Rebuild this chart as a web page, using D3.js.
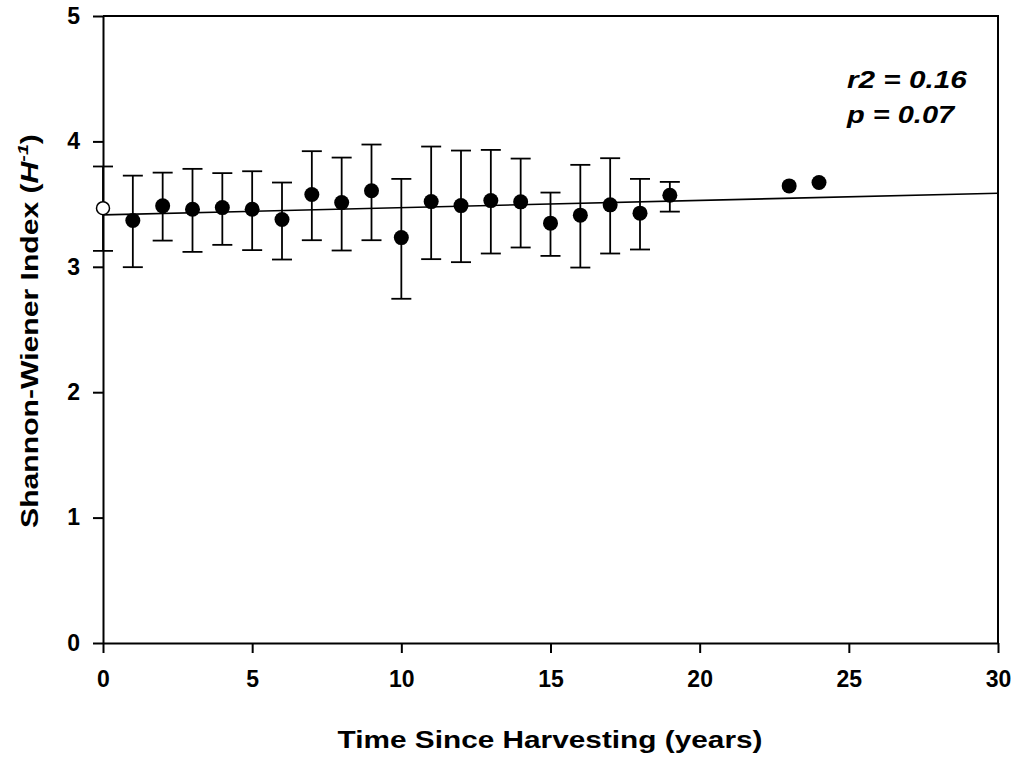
<!DOCTYPE html>
<html>
<head>
<meta charset="utf-8">
<script src="https://cdn.jsdelivr.net/npm/d3@7"></script>
<style>
  html, body { margin: 0; padding: 0; background: #fff; }
  svg { display: block; font-family: Arial, Helvetica, sans-serif; }
</style>
</head>
<body>
<svg id="chart" width="1018" height="757"></svg>
<script>
// Years since harvesting for each sampled stand
const years = [0, 1, 2, 3, 4, 5, 6, 7, 8, 9, 10, 11, 12, 13, 14, 15, 16, 17, 18, 19, 23, 24];
// Mean Shannon-Wiener index per age
const meanH = [3.467, 3.369, 3.486, 3.459, 3.472, 3.459, 3.377, 3.576, 3.512, 3.606, 3.233,
               3.520, 3.488, 3.528, 3.518, 3.348, 3.412, 3.494, 3.428, 3.571, 3.645, 3.672];
// Error bar bounds (null where a single stand was sampled)
const upperH = [3.80, 3.727, 3.751, 3.781, 3.747, 3.762, 3.672, 3.922, 3.871, 3.975, 3.701,
                3.959, 3.927, 3.932, 3.863, 3.592, 3.813, 3.866, 3.701, 3.677, null, null];
const lowerH = [3.127, 2.997, 3.209, 3.119, 3.175, 3.133, 3.058, 3.212, 3.130, 3.212, 2.745,
                3.061, 3.037, 3.106, 3.154, 3.087, 2.994, 3.106, 3.138, 3.440, null, null];
// Unharvested reference stand is drawn hollow
const isReference = years.map(y => y === 0);
// Linear regression endpoints
const fitX = [0, 30];
const fitY = [3.414, 3.587];
const xTicks = [0, 5, 10, 15, 20, 25, 30];
const yTicks = [0, 1, 2, 3, 4, 5];
const statLines = ["r2 = 0.16", "p = 0.07"];

const svg = d3.select("#chart");
const plotL = 103, plotR = 998, plotT = 16, plotB = 643;
const FONT = "Arial, Helvetica, sans-serif";

const x = d3.scaleLinear().domain([0, 30]).range([plotL, plotR]);
const y = d3.scaleLinear().domain([0, 5]).range([plotB, plotT]);

const data = years.map((yr, i) => ({
  x: yr, m: meanH[i], hi: upperH[i], lo: lowerH[i], ref: isReference[i]
}));

// Widen a text node horizontally (in its own frame) to a given width
function widen(node, width) {
  const w = node.getBBox().width;
  return w > 0 ? width / w : 1;
}

// frame (top and right)
svg.append("path")
  .attr("d", `M${plotL},${plotT}H${plotR}V${plotB}`)
  .attr("fill", "none").attr("stroke", "#000").attr("stroke-width", 2);

// axes
const xAxis = svg.append("g")
  .attr("transform", `translate(0,${plotB})`)
  .call(d3.axisBottom(x).tickValues(xTicks).tickFormat(d3.format("d"))
    .tickSize(10).tickSizeOuter(0).tickPadding(18));
const yAxis = svg.append("g")
  .attr("transform", `translate(${plotL},0)`)
  .call(d3.axisLeft(y).tickValues(yTicks).tickFormat(d3.format("d"))
    .tickSize(10).tickSizeOuter(0).tickPadding(13));

[xAxis, yAxis].forEach(g => {
  g.attr("font-family", FONT);
  g.select(".domain").attr("stroke", "#000").attr("stroke-width", 2);
  g.selectAll(".tick line").attr("stroke", "#000").attr("stroke-width", 2);
  g.selectAll(".tick text")
    .attr("fill", "#000")
    .style("font-family", FONT)
    .style("font-size", "23px").style("font-weight", "bold");
});

// regression line
svg.append("line")
  .attr("x1", x(fitX[0])).attr("y1", y(fitY[0]))
  .attr("x2", x(fitX[1])).attr("y2", y(fitY[1]))
  .attr("stroke", "#000").attr("stroke-width", 1.6);

// error bars
const eb = svg.append("g").attr("stroke", "#000").attr("stroke-width", 1.8);
const withErr = data.filter(d => d.hi != null);
eb.selectAll("line.stem").data(withErr).join("line").attr("class", "stem")
  .attr("x1", d => x(d.x)).attr("x2", d => x(d.x))
  .attr("y1", d => y(d.hi)).attr("y2", d => y(d.lo));
eb.selectAll("line.capHi").data(withErr).join("line").attr("class", "capHi")
  .attr("x1", d => x(d.x) - 10).attr("x2", d => x(d.x) + 10)
  .attr("y1", d => y(d.hi)).attr("y2", d => y(d.hi));
eb.selectAll("line.capLo").data(withErr).join("line").attr("class", "capLo")
  .attr("x1", d => x(d.x) - 10).attr("x2", d => x(d.x) + 10)
  .attr("y1", d => y(d.lo)).attr("y2", d => y(d.lo));

// means
svg.append("g").selectAll("circle").data(data).join("circle")
  .attr("cx", d => x(d.x)).attr("cy", d => y(d.m))
  .attr("r", d => d.ref ? 6.5 : 7.5)
  .attr("fill", d => d.ref ? "#fff" : "#000")
  .attr("stroke", "#000").attr("stroke-width", d => d.ref ? 1.5 : 0);

// regression statistics
const statWidths = [120, 110];
svg.append("g").selectAll("text").data(statLines).join("text")
  .style("font-family", FONT)
  .style("font-size", "23px").style("font-weight", "bold").style("font-style", "italic")
  .text(d => d)
  .each(function (d, i) {
    const s = widen(this, statWidths[i]);
    d3.select(this).attr("transform", `translate(847,${88 + i * 35}) scale(${s},1)`);
  });

// axis titles
const xt = svg.append("text")
  .attr("text-anchor", "middle")
  .style("font-family", FONT)
  .style("font-size", "23px").style("font-weight", "bold")
  .text("Time Since Harvesting (years)");
xt.attr("transform", `translate(550,748) scale(${widen(xt.node(), 425)},1)`);

const yt = svg.append("text")
  .attr("text-anchor", "middle")
  .style("font-family", FONT)
  .style("font-size", "23px").style("font-weight", "bold");
yt.append("tspan").text("Shannon-Wiener Index (");
yt.append("tspan").style("font-style", "italic").text("H");
yt.append("tspan").attr("dy", -10).style("font-size", "15px").style("font-style", "italic").text("-1");
yt.append("tspan").attr("dy", 10).text(")");
yt.attr("transform", `translate(38,331) rotate(-90) scale(${widen(yt.node(), 394)},1)`);
</script>
</body>
</html>
